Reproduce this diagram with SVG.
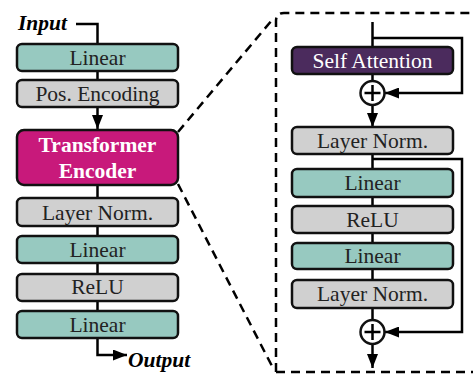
<svg xmlns="http://www.w3.org/2000/svg" width="473" height="375" viewBox="0 0 473 375">
<defs>
<marker id="ah2" viewBox="0 0 10 10" refX="10" refY="5" markerWidth="14" markerHeight="11" markerUnits="userSpaceOnUse" orient="auto" preserveAspectRatio="none">
<path d="M0,0 L10,5 L0,10 z" fill="#000"/>
</marker>
<style>
.box{stroke:#111;stroke-width:2.5}
.teal{fill:#97c9c0}
.gray{fill:#d0d0d0}
.mag{fill:#c8197b}
.pur{fill:#4b2b5d}
.t{font-family:"Liberation Serif","Times New Roman",serif;font-size:21.5px;text-anchor:middle;fill:#222}
.tw{font-family:"Liberation Serif","Times New Roman",serif;font-size:21.5px;text-anchor:middle;fill:#fff}
.tb{font-weight:bold}
.io{font-family:"Liberation Serif","Times New Roman",serif;font-size:21.5px;font-weight:bold;font-style:italic;fill:#000}
.ln{fill:none;stroke:#000;stroke-width:2.5}
.dash{fill:none;stroke:#000;stroke-width:2.5;stroke-dasharray:9,6}
</style>
</defs>
<g id="connectors">
<polyline class="ln" points="76,24 97.5,24 97.5,44"/>
<line class="ln" x1="97.5" y1="71" x2="97.5" y2="80"/>
<line class="ln" x1="97.5" y1="107" x2="97.5" y2="129" marker-end="url(#ah2)"/>
<line class="ln" x1="97.5" y1="185" x2="97.5" y2="198"/>
<line class="ln" x1="97.5" y1="226" x2="97.5" y2="236"/>
<line class="ln" x1="97.5" y1="263" x2="97.5" y2="274"/>
<line class="ln" x1="97.5" y1="301" x2="97.5" y2="311"/>
<polyline class="ln" points="97.5,338 97.5,355 127,355" marker-end="url(#ah2)"/>
<line class="dash" x1="178" y1="132" x2="272" y2="20"/>
<line class="dash" x1="178" y1="184" x2="274" y2="370"/>
<path class="dash" d="M276,372 L276,21 Q276,13 284,13 L473,13"/>
<line class="dash" x1="276" y1="372" x2="473" y2="372"/>
<line class="ln" x1="372.5" y1="22" x2="372.5" y2="47"/>
<polyline class="ln" points="372.5,38 462,38 462,93 385,93" marker-end="url(#ah2)"/>
<line class="ln" x1="372.5" y1="74" x2="372.5" y2="81"/>
<line class="ln" x1="372.5" y1="105" x2="372.5" y2="127" marker-end="url(#ah2)"/>
<line class="ln" x1="372.5" y1="154" x2="372.5" y2="169"/>
<polyline class="ln" points="372.5,159 462,159 462,332 385,332" marker-end="url(#ah2)"/>
<line class="ln" x1="372.5" y1="197" x2="372.5" y2="206"/>
<line class="ln" x1="372.5" y1="233" x2="372.5" y2="243"/>
<line class="ln" x1="372.5" y1="269" x2="372.5" y2="280"/>
<line class="ln" x1="372.5" y1="308" x2="372.5" y2="320"/>
<line class="ln" x1="372.5" y1="344" x2="372.5" y2="368" marker-end="url(#ah2)"/>
</g>
<g id="input"><text class="io" x="18" y="30">Input</text></g>
<g id="output"><text class="io" x="128" y="367">Output</text></g>
<g id="linear1"><rect class="box teal" x="17" y="44" width="161" height="27" rx="5"/><text class="t" x="97.5" y="65">Linear</text></g>
<g id="posenc"><rect class="box gray" x="17" y="80" width="161" height="27" rx="5"/><text class="t" x="97.5" y="100.5">Pos. Encoding</text></g>
<g id="encoder"><rect class="box mag" x="17" y="130" width="161" height="55" rx="7"/><text class="tw tb" x="97.5" y="151.5">Transformer</text><text class="tw tb" x="97.5" y="177.5">Encoder</text></g>
<g id="layernorm1"><rect class="box gray" x="17" y="198" width="161" height="28" rx="5"/><text class="t" x="97.5" y="219.5">Layer Norm.</text></g>
<g id="linear2"><rect class="box teal" x="17" y="236" width="161" height="27" rx="5"/><text class="t" x="97.5" y="257">Linear</text></g>
<g id="relu1"><rect class="box gray" x="17" y="274" width="161" height="27" rx="5"/><text class="t" x="97.5" y="294">ReLU</text></g>
<g id="linear3"><rect class="box teal" x="17" y="311" width="161" height="27" rx="5"/><text class="t" x="97.5" y="332">Linear</text></g>
<g id="selfatt"><rect class="box pur" x="292" y="47" width="161" height="27" rx="5"/><text class="tw" x="372.5" y="67.5">Self Attention</text></g>
<g id="add1"><circle class="box" cx="372.5" cy="93" r="12" fill="#fff"/><path class="ln" d="M364.5,93 H380.5 M372.5,85 V101"/></g>
<g id="layernorm2"><rect class="box gray" x="292" y="127" width="161" height="27" rx="5"/><text class="t" x="372.5" y="148">Layer Norm.</text></g>
<g id="linear4"><rect class="box teal" x="292" y="169" width="161" height="28" rx="5"/><text class="t" x="372.5" y="189.5">Linear</text></g>
<g id="relu2"><rect class="box gray" x="292" y="206" width="161" height="27" rx="5"/><text class="t" x="372.5" y="226.5">ReLU</text></g>
<g id="linear5"><rect class="box teal" x="292" y="243" width="161" height="26" rx="5"/><text class="t" x="372.5" y="263">Linear</text></g>
<g id="layernorm3"><rect class="box gray" x="292" y="280" width="161" height="28" rx="5"/><text class="t" x="372.5" y="301">Layer Norm.</text></g>
<g id="add2"><circle class="box" cx="372.5" cy="332" r="12" fill="#fff"/><path class="ln" d="M364.5,332 H380.5 M372.5,324 V340"/></g>
</svg>
